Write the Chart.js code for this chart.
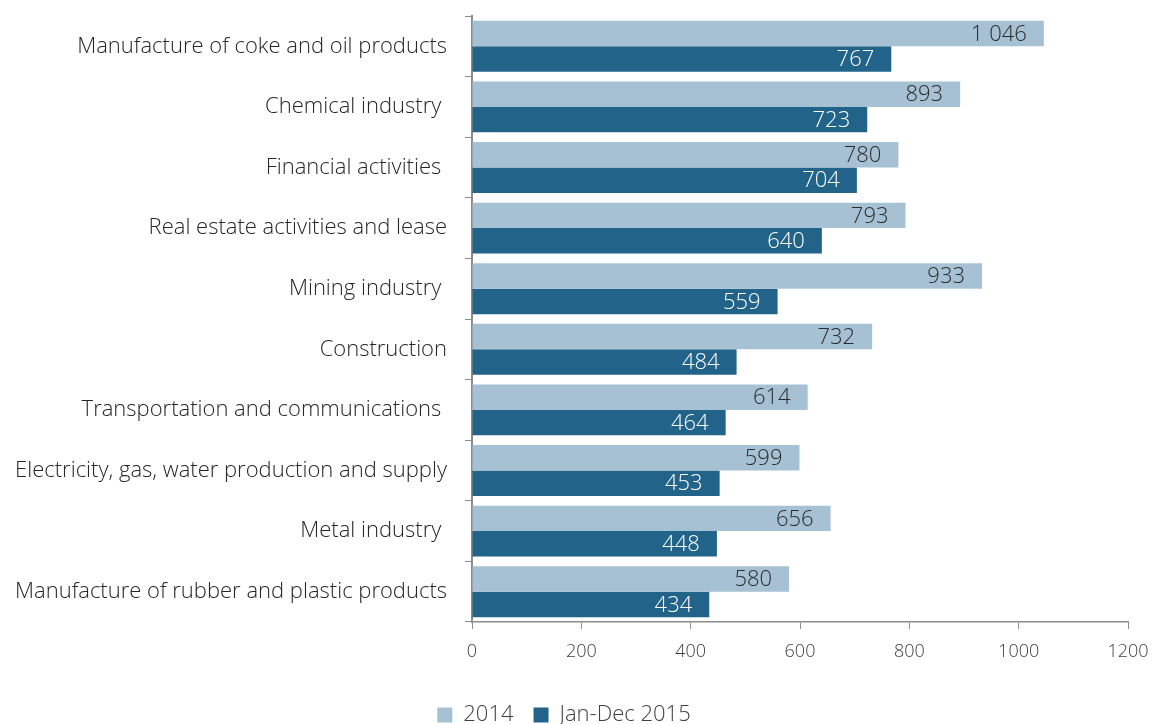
<!DOCTYPE html>
<html>
<head>
<meta charset="utf-8">
<script src="https://cdn.jsdelivr.net/npm/chart.js@4/dist/chart.umd.min.js"></script>
<style>
  html, body { margin: 0; padding: 0; background: #fff; }
  #wrap { width: 1152px; height: 724px; }
</style>
</head>
<body>
<div id="wrap"><canvas id="industryChart"></canvas></div>
<script>
// Industries, top to bottom
const industries = [
    'Manufacture of coke and oil products',
    'Chemical industry ',
    'Financial activities ',
    'Real estate activities and lease',
    'Mining industry ',
    'Construction',
    'Transportation and communications ',
    'Electricity, gas, water production and supply',
    'Metal industry ',
    'Manufacture of rubber and plastic products'
];
const values2014 = [1046, 893, 780, 793, 933, 732, 614, 599, 656, 580];
const values2015 = [767, 723, 704, 640, 559, 484, 464, 453, 448, 434];
const seriesNames = ['2014', 'Jan-Dec 2015'];
const xTicks = [0, 200, 400, 600, 800, 1000, 1200];

const FONT = '"Open Sans", "Noto Sans", sans-serif';
const TEXT = '#404040';
const AXIS = '#8c8c8c';

// thousands separated by a space: 1046 -> "1 046"
const fmt = v => String(v).replace(/\B(?=(\d{3})+(?!\d))/g, ' ');

// value labels drawn inside the end of each bar
const barValueLabels = {
    id: 'barValueLabels',
    afterDatasetsDraw(chart) {
        const ctx = chart.ctx;
        ctx.save();
        ctx.font = '350 22px ' + FONT;
        ctx.textAlign = 'right';
        ctx.textBaseline = 'middle';
        chart.data.datasets.forEach((ds, i) => {
            const meta = chart.getDatasetMeta(i);
            ctx.fillStyle = i === 0 ? '#2b2b2b' : '#ffffff';
            meta.data.forEach((bar, j) => {
                ctx.fillText(fmt(ds.data[j]), bar.x - 17, bar.y + 1);
            });
        });
        ctx.restore();
    }
};

const ctx = document.getElementById('industryChart').getContext('2d');
const industryChart = new Chart(ctx, {
    type: 'bar',
    data: {
        labels: industries,
        datasets: [{
            label: seriesNames[0],
            data: values2014,
            backgroundColor: '#a6c1d3',
            categoryPercentage: 0.84,
            barPercentage: 1.0
        }, {
            label: seriesNames[1],
            data: values2015,
            backgroundColor: '#226489',
            categoryPercentage: 0.84,
            barPercentage: 1.0
        }]
    },
    options: {
        indexAxis: 'y',
        responsive: true,
        maintainAspectRatio: false,
        animation: false,
        // negative bottom padding lets the legend sit close to the lower edge
        layout: { padding: { top: 16, right: 24, left: 0, bottom: -12 } },
        plugins: {
            legend: {
                position: 'bottom',
                labels: {
                    font: { family: FONT, size: 22, weight: '350' },
                    color: TEXT,
                    boxWidth: 15,
                    boxHeight: 15,
                    padding: 20
                }
            },
            tooltip: { enabled: false }
        },
        scales: {
            x: {
                min: 0,
                max: 1200,
                afterBuildTicks: scale => { scale.ticks = xTicks.map(v => ({ value: v })); },
                afterFit: scale => {
                    scale.height = 62;
                    scale.paddingLeft = 0;
                    scale.paddingRight = 0;
                },
                border: { color: AXIS, width: 1.5 },
                grid: { drawOnChartArea: false, color: AXIS, tickLength: 7 },
                ticks: {
                    font: { family: FONT, size: 18, weight: '350' },
                    color: TEXT,
                    padding: 12,
                    callback: v => String(v)
                }
            },
            y: {
                afterFit: scale => {
                    scale.width = 472;
                    scale.paddingTop = 0;
                    scale.paddingBottom = 0;
                },
                border: { color: AXIS, width: 2 },
                grid: { drawOnChartArea: false, color: AXIS, tickLength: 7, offset: true },
                ticks: { font: { family: FONT, size: 22, weight: '350' }, color: '#262626', padding: 18 }
            }
        }
    },
    plugins: [barValueLabels]
});
</script>
</body>
</html>
